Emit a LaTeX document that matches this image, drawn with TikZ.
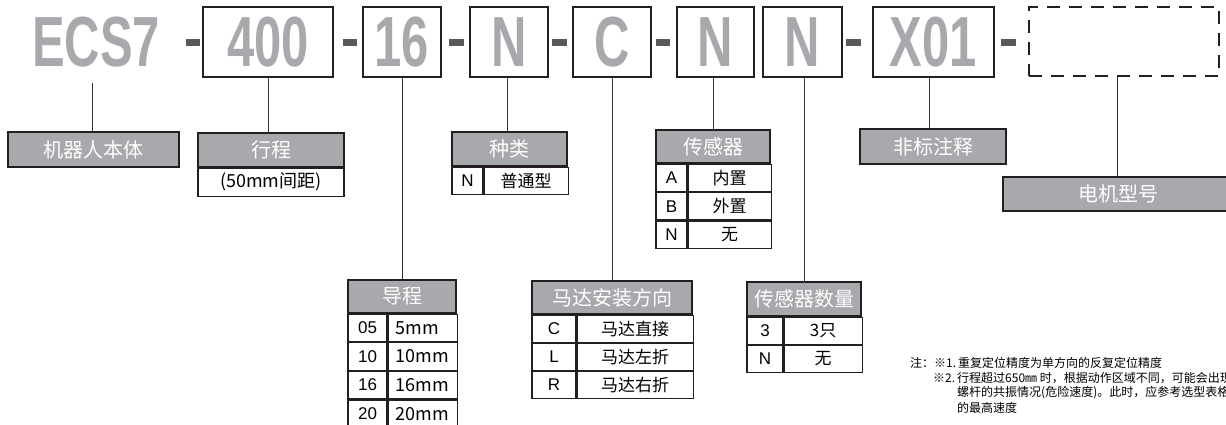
\documentclass[tikz,border=0pt]{standalone}
\usepackage{fontspec}
\setmainfont{Noto Sans CJK SC}
\newfontfamily\latf{Liberation Sans}
\definecolor{lgray}{HTML}{A7A9AC}
\definecolor{hgray}{HTML}{A7A9AC}
\definecolor{dashc}{HTML}{58595B}
\definecolor{bord}{HTML}{231F20}
\newcommand{\bigf}{\latf\bfseries\fontsize{71}{71}\selectfont}
\newcommand{\hfont}{\fontsize{20}{20}\selectfont}
\newcommand{\cfont}{\fontsize{17}{17}\selectfont}
\newcommand{\lfont}{\latf\fontsize{17}{17}\selectfont}
\newcommand{\mfont}{\fontsize{18}{18}\selectfont}
\newcommand{\nfont}{\fontsize{12}{12}\selectfont}
\newcommand{\sq}[1]{\scalebox{0.69}[1]{#1}}
\begin{document}
\begin{tikzpicture}[x=1pt,y=-1pt,
  big/.style={font=\bigf, text=lgray, inner sep=0},
  codebox/.style={draw=bord, line width=1.4, minimum height=70, inner sep=0, font=\bigf, text=lgray},
  dbox/.style={draw=bord, line width=1.4, dash pattern=on 13pt off 9pt, minimum height=69, inner sep=0},
  hdr/.style={draw=bord, line width=1.2, fill=hgray, text=white, font=\hfont, inner sep=0},
  cell/.style={draw=bord, line width=1.2, fill=white, inner sep=0, font=\cfont},
  lcell/.style={cell, font=\lfont},
  conn/.style={draw=black!80, line width=0.9},
  note/.style={font=\nfont, inner sep=0, anchor=west},
  dsh/.style={fill=dashc}
]
\useasboundingbox (0,0) rectangle (1226,424);
\clip (0,0) rectangle (1226,424);

% ---- code row ----
\node[big] (ecs) at (96,42) {\sq{ECS7}};
\node[codebox, minimum width=130] (b400) at (268,42) {\sq{400}};
\node[codebox, minimum width=78] (b16) at (402,42) {\sq{16}};
\node[codebox, minimum width=78] (bn1) at (509,42) {\sq{N}};
\node[codebox, minimum width=78] (bc) at (612,42) {\sq{C}};
\node[codebox, minimum width=77] (bn2) at (715.5,42) {\sq{N}};
\node[codebox, minimum width=79] (bn3) at (802.5,42) {\sq{N}};
\node[codebox, minimum width=121] (bx) at (933.5,42) {\sq{X01}};
\node[dbox, minimum width=190] (bm) at (1124,41.5) {};

\fill[dsh] (186,39) rectangle (200,46);
\fill[dsh] (343,39) rectangle (357,46);
\fill[dsh] (449,39) rectangle (464,46);
\fill[dsh] (552,39) rectangle (567,46);
\fill[dsh] (656,39) rectangle (670,46);
\fill[dsh] (846,39) rectangle (861,46);
\fill[dsh] (1001,39) rectangle (1016,46);

% ---- labels ----
\node[hdr, minimum width=171, minimum height=35] (body) at (93.5,149.5) {机器人本体};

\node[hdr, minimum width=146, minimum height=34] (xc) at (271,150) {行程};
\node[cell, minimum width=146, minimum height=28, anchor=north, font=\mfont] (xc1) at (xc.south) {(50mm间距)};

\node[hdr, minimum width=115, minimum height=34] (zl) at (509.5,149) {种类};
\node[lcell, minimum width=31, minimum height=27, anchor=north west] (zl1a) at (zl.south west) {N};
\node[cell, minimum width=84, minimum height=27, anchor=north west] (zl1b) at (zl1a.north east) {普通型};

\node[hdr, minimum width=114, minimum height=33] (cg) at (713,146.5) {传感器};
\node[lcell, minimum width=31, minimum height=27.3, anchor=north west] (cg1a) at (cg.south west) {A};
\node[cell, minimum width=83, minimum height=27.3, anchor=north west] (cg1b) at (cg1a.north east) {内置};
\node[lcell, minimum width=31, minimum height=27.3, anchor=north west] (cg2a) at (cg1a.south west) {B};
\node[cell, minimum width=83, minimum height=27.3, anchor=north west] (cg2b) at (cg2a.north east) {外置};
\node[lcell, minimum width=31, minimum height=27.3, anchor=north west] (cg3a) at (cg2a.south west) {N};
\node[cell, minimum width=83, minimum height=27.3, anchor=north west] (cg3b) at (cg3a.north east) {无};

\node[hdr, minimum width=146, minimum height=35] (fb) at (933,146.5) {非标注释};
\node[hdr, minimum width=230, minimum height=34] (dj) at (1118,194) {电机型号};

% 导程
\node[hdr, minimum width=108, minimum height=33] (dc) at (402,296.5) {导程};
\node[lcell, minimum width=39, minimum height=27.4, anchor=north west] (dc1a) at (dc.south west) {05};
\node[cell, font=\mfont, text width=54, align=left, inner xsep=7.5, minimum height=27.4, anchor=north west] (dc1b) at (dc1a.north east) {5mm};
\node[lcell, minimum width=39, minimum height=27.4, anchor=north west] (dc2a) at (dc1a.south west) {10};
\node[cell, font=\mfont, text width=54, align=left, inner xsep=7.5, minimum height=27.4, anchor=north west] (dc2b) at (dc2a.north east) {10mm};
\node[lcell, minimum width=39, minimum height=27.4, anchor=north west] (dc3a) at (dc2a.south west) {16};
\node[cell, font=\mfont, text width=54, align=left, inner xsep=7.5, minimum height=27.4, anchor=north west] (dc3b) at (dc3a.north east) {16mm};
\node[lcell, minimum width=39, minimum height=27.4, anchor=north west] (dc4a) at (dc3a.south west) {20};
\node[cell, font=\mfont, text width=54, align=left, inner xsep=7.5, minimum height=27.4, anchor=north west] (dc4b) at (dc4a.north east) {20mm};

% 马达安装方向
\node[hdr, minimum width=160, minimum height=33] (md) at (612,297.5) {马达安装方向};
\node[lcell, minimum width=44, minimum height=27, anchor=north west] (md1a) at (md.south west) {C};
\node[cell, minimum width=116, minimum height=27, anchor=north west] (md1b) at (md1a.north east) {马达直接};
\node[lcell, minimum width=44, minimum height=27, anchor=north west] (md2a) at (md1a.south west) {L};
\node[cell, minimum width=116, minimum height=27, anchor=north west] (md2b) at (md2a.north east) {马达左折};
\node[lcell, minimum width=44, minimum height=27, anchor=north west] (md3a) at (md2a.south west) {R};
\node[cell, minimum width=116, minimum height=27, anchor=north west] (md3b) at (md3a.north east) {马达右折};

% 传感器数量
\node[hdr, minimum width=114, minimum height=34] (sl) at (804,299) {传感器数量};
\node[lcell, minimum width=36, minimum height=27, anchor=north west] (sl1a) at (sl.south west) {3};
\node[cell, minimum width=78, minimum height=27, anchor=north west] (sl1b) at (sl1a.north east) {3只};
\node[lcell, minimum width=36, minimum height=27, anchor=north west] (sl2a) at (sl1a.south west) {N};
\node[cell, minimum width=78, minimum height=27, anchor=north west] (sl2b) at (sl2a.north east) {无};

% ---- connectors ----
\coordinate (ecsb) at (92,83);
\draw[conn] (ecsb) -- (ecsb |- body.north);
\draw[conn] (b400.south) -- (b400.south |- xc.north);
\draw[conn] (b16.south) -- (b16.south |- dc.north);
\draw[conn] ([xshift=-2]bn1.south) -- ([xshift=-2]bn1.south |- zl.north);
\draw[conn] (bc.south) -- (bc.south |- md.north);
\draw[conn] ([xshift=-2.5]bn2.south) -- ([xshift=-2.5]bn2.south |- cg.north);
\draw[conn] ([xshift=1.5]bn3.south) -- ([xshift=1.5]bn3.south |- sl.north);
\draw[conn] ([xshift=-4.5]bx.south) -- ([xshift=-4.5]bx.south |- fb.north);
\draw[conn] ([xshift=-7]bm.south) -- ([xshift=-7]bm.south |- dj.north);

% ---- notes ----
\node[note] (n1) at (910,363) {注：※1.\,重复定位精度为单方向的反复定位精度};
\node[note] (n2) at (933,378) {※2.\,行程超过650㎜ 时，根据动作区域不同，可能会出现};
\node[note] (n3) at (957,393) {螺杆的共振情况(危险速度)。此时，应参考选型表格};
\node[note] (n4) at (957,408) {的最高速度};
\end{tikzpicture}
\end{document}
